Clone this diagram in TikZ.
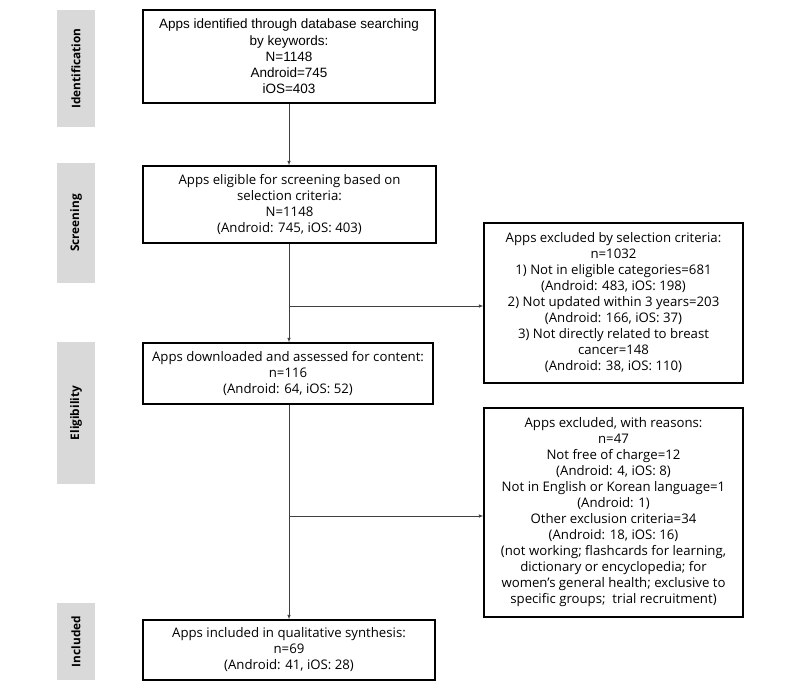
\documentclass[tikz,border=0pt]{standalone}
\usepackage{fontspec}
\setmainfont{Open Sans}
\newfontfamily\arialfont{Liberation Sans}
\usepackage{tikz}
\usetikzlibrary{calc}
\definecolor{stagegray}{RGB}{217,217,217}
\tikzstyle{stage}=[fill=stagegray, rotate=90, inner sep=0, font=\bfseries\fontsize{11.8}{13}\selectfont]
\tikzstyle{flowbox}=[draw, line width=1.3pt, align=center, inner sep=0, font=\fontsize{13.2}{16}\selectfont]
\tikzstyle{link}=[draw=black!75, line width=0.6pt, -latex]
\newcommand{\PRstage}[4]{\node[stage, minimum width=#3pt, minimum height=38pt] (#1) at (76,#2) {#4};}

\begin{document}
\begin{tikzpicture}[x=1pt, y=-1pt]
\useasboundingbox (0,0) rectangle (800,683);
% stage bars on the left
\PRstage{ident}{68.5}{117}{Identification}
\PRstage{screen}{223}{120}{Screening}
\PRstage{elig}{413}{142}{Eligibility}
\PRstage{incl}{641.5}{77}{Included}
% main column
\node[flowbox, minimum width=292pt, minimum height=93pt, font=\arialfont\fontsize{13.5}{16.3}\selectfont] (found) at (289,56.5)
  {Apps identified through database searching\\ by keywords:\\ N=1148\\ Android=745\\ iOS=403};
\node[flowbox, minimum width=293pt, minimum height=77pt] (eligible) at (289.5,204.5)
  {Apps eligible for screening based on\\ selection criteria:\\ N=1148\\ (Android: 745, iOS: 403)};
\node[flowbox, minimum width=290pt, minimum height=61pt] (assessed) at (288,373.5)
  {Apps downloaded and assessed for content:\\ n=116\\ (Android: 64, iOS: 52)};
\node[flowbox, minimum width=292pt, minimum height=60pt] (included) at (289,650)
  {Apps included in qualitative synthesis:\\ n=69\\ (Android: 41, iOS: 28)};
% exclusion boxes
\node[flowbox, minimum width=259pt, minimum height=160pt] (excl1) at (613.5,303)
  {Apps excluded by selection criteria:\\ n=1032\\ 1) Not in eligible categories=681\\ (Android: 483, iOS: 198)\\
   2) Not updated within 3 years=203\\ (Android: 166, iOS: 37)\\ 3) Not directly related to breast\\ cancer=148\\ (Android: 38, iOS: 110)};
\node[flowbox, minimum width=259pt, minimum height=209pt] (excl2) at (613.5,512.5)
  {Apps excluded, with reasons:\\ n=47\\ Not free of charge=12\\ (Android: 4, iOS: 8)\\
   Not in English or Korean language=1\\ (Android: 1)\\ Other exclusion criteria=34\\ (Android: 18, iOS: 16)\\
   (not working; flashcards for learning,\\ dictionary or encyclopedia; for\\ women's general health; exclusive to\\ specific groups;\ \ trial recruitment)};
% connectors
\coordinate (split1) at (289,306);
\coordinate (split2) at (289,516);
\draw[link] (found) -- (found |- eligible.north);
\draw[link] (eligible.south -| split1) -- (split1 |- assessed.north);
\draw[link] (assessed.south -| split2) -- (split2 |- included.north);
\draw[link] (split1) -- (split1 -| excl1.west);
\draw[link] (split2) -- (split2 -| excl2.west);
\end{tikzpicture}
\end{document}
